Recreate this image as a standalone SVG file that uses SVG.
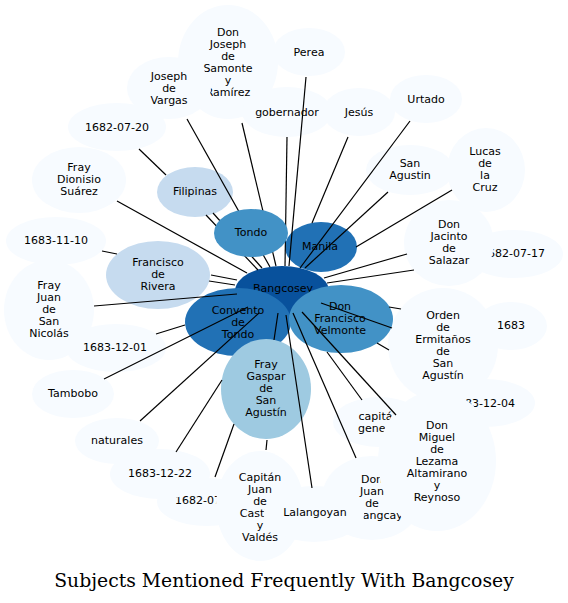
<svg xmlns="http://www.w3.org/2000/svg" width="568" height="603" viewBox="0 0 568 603">
<style>
text{font-family:"DejaVu Sans","Liberation Sans",sans-serif;font-size:11px;text-anchor:middle;fill:#000}
.b0{fill:#f7fbff}.b1{fill:#c6dbef}.b2{fill:#9ecae1}.b3{fill:#4292c6}.b4{fill:#2171b5}.b5{fill:#08519c}
#edges line{stroke:#000;stroke-width:1.2}
.title{font-family:"DejaVu Serif","Liberation Serif",serif;font-size:18.8px}
</style>
<rect width="568" height="603" fill="#fff"/>
<g id="n_samonte"><ellipse class="b0" cx="228" cy="62" rx="50" ry="57"/><text><tspan x="228" y="36">Don</tspan><tspan x="228" y="48">Joseph</tspan><tspan x="228" y="60">de</tspan><tspan x="228" y="72">Samonte</tspan><tspan x="228" y="84">y</tspan><tspan x="228" y="96">Ramírez</tspan></text></g>
<g id="n_perea"><ellipse class="b0" cx="309" cy="52" rx="36" ry="24"/><text x="309" y="56">Perea</text></g>
<g id="n_gobernador"><ellipse class="b0" cx="287" cy="112" rx="45" ry="25"/><text x="287" y="116">gobernador</text></g>
<g id="n_vargas"><ellipse class="b0" cx="169" cy="88" rx="42" ry="31"/><text><tspan x="169" y="80">Joseph</tspan><tspan x="169" y="92">de</tspan><tspan x="169" y="104">Vargas</tspan></text></g>
<g id="n_jesus"><ellipse class="b0" cx="359" cy="112" rx="36" ry="24"/><text x="359" y="116">Jesús</text></g>
<g id="n_urtado"><ellipse class="b0" cx="426" cy="99" rx="36" ry="24"/><text x="426" y="103">Urtado</text></g>
<g id="n_d16820720"><ellipse class="b0" cx="117" cy="127" rx="49" ry="24"/><text x="117" y="131">1682-07-20</text></g>
<g id="n_sanagustin"><ellipse class="b0" cx="410" cy="170" rx="44" ry="25"/><text><tspan x="410" y="167">San</tspan><tspan x="410" y="179">Agustin</tspan></text></g>
<g id="n_lucas"><ellipse class="b0" cx="486" cy="170" rx="39" ry="42"/><text><tspan x="485" y="155">Lucas</tspan><tspan x="485" y="167">de</tspan><tspan x="485" y="179">la</tspan><tspan x="485" y="191">Cruz</tspan></text></g>
<g id="n_dionisio"><ellipse class="b0" cx="79" cy="180" rx="47" ry="33"/><text><tspan x="79" y="171">Fray</tspan><tspan x="79" y="183">Dionisio</tspan><tspan x="79" y="195">Suárez</tspan></text></g>
<g id="n_d16820717"><ellipse class="b0" cx="514" cy="254" rx="49" ry="24"/><text x="513" y="257">1682-07-17</text></g>
<g id="n_jacinto"><ellipse class="b0" cx="449" cy="243" rx="45" ry="43"/><text><tspan x="449" y="228">Don</tspan><tspan x="449" y="240">Jacinto</tspan><tspan x="449" y="252">de</tspan><tspan x="449" y="264">Salazar</tspan></text></g>
<g id="n_d16831110"><ellipse class="b0" cx="56" cy="241" rx="50" ry="24"/><text x="56" y="244">1683-11-10</text></g>
<g id="n_sannicolas"><ellipse class="b0" cx="49" cy="310" rx="45" ry="50"/><text><tspan x="49" y="289">Fray</tspan><tspan x="49" y="301">Juan</tspan><tspan x="49" y="313">de</tspan><tspan x="49" y="325">San</tspan><tspan x="49" y="337">Nicolás</tspan></text></g>
<g id="n_d16831201"><ellipse class="b0" cx="116" cy="348" rx="50" ry="24"/><text x="115" y="351">1683-12-01</text></g>
<g id="n_d1683"><ellipse class="b0" cx="511" cy="326" rx="36" ry="24"/><text x="511" y="329">1683</text></g>
<g id="n_orden"><ellipse class="b0" cx="443" cy="345" rx="55" ry="57"/><text><tspan x="443" y="319">Orden</tspan><tspan x="443" y="331">de</tspan><tspan x="443" y="343">Ermitaños</tspan><tspan x="443" y="355">de</tspan><tspan x="443" y="367">San</tspan><tspan x="443" y="379">Agustín</tspan></text></g>
<g id="n_tambobo"><ellipse class="b0" cx="73" cy="394" rx="41" ry="24"/><text x="73" y="397">Tambobo</text></g>
<g id="n_d16831204"><ellipse class="b0" cx="485" cy="403" rx="50" ry="24"/><text x="483" y="407">1683-12-04</text></g>
<g id="n_capitangeneral"><ellipse class="b0" cx="379" cy="422" rx="46" ry="25"/><text><tspan x="379" y="420">capitán</tspan><tspan x="379" y="432">general</tspan></text></g>
<g id="n_naturales"><ellipse class="b0" cx="117" cy="441" rx="42" ry="23"/><text x="117" y="444">naturales</text></g>
<g id="n_d168207"><ellipse class="b0" cx="207" cy="502" rx="50" ry="24"/><text x="175" y="504" style="text-anchor:start">1682-07</text></g>
<g id="n_d16831222"><ellipse class="b0" cx="160" cy="474" rx="50" ry="25"/><text x="160" y="477">1683-12-22</text></g>
<g id="n_castillo"><ellipse class="b0" cx="260" cy="506" rx="44" ry="55"/><text><tspan x="260" y="481">Capitán</tspan><tspan x="260" y="493">Juan</tspan><tspan x="260" y="505">de</tspan><tspan x="260" y="517">Castillo</tspan><tspan x="260" y="529">y</tspan><tspan x="260" y="541">Valdés</tspan></text></g>
<g id="n_bangcay"><ellipse class="b0" cx="372" cy="498" rx="50" ry="42"/><text><tspan x="372" y="483">Don</tspan><tspan x="372" y="495">Juan</tspan><tspan x="372" y="507">de</tspan><tspan x="379" y="519">Bangcay</tspan></text></g>
<g id="n_lalangoyan"><ellipse class="b0" cx="314" cy="514" rx="50" ry="28"/><text x="315" y="516">Lalangoyan</text></g>
<g id="n_miguel"><ellipse class="b0" cx="437" cy="461" rx="59" ry="70"/><text><tspan x="437" y="429">Don</tspan><tspan x="437" y="441">Miguel</tspan><tspan x="437" y="453">de</tspan><tspan x="437" y="465">Lezama</tspan><tspan x="437" y="477">Altamirano</tspan><tspan x="437" y="489">y</tspan><tspan x="437" y="501">Reynoso</tspan></text></g>
<g id="n_filipinas"><ellipse class="b1" cx="195" cy="192" rx="38" ry="25"/><text x="195" y="195">Filipinas</text></g>
<g id="n_rivera"><ellipse class="b1" cx="158" cy="275" rx="52" ry="34"/><text><tspan x="158" y="266">Francisco</tspan><tspan x="158" y="278">de</tspan><tspan x="158" y="290">Rivera</tspan></text></g>
<g id="n_manila"><ellipse class="b4" cx="321" cy="247" rx="36" ry="25"/><text x="320" y="250">Manila</text></g>
<g id="n_bangcosey"><ellipse class="b5" cx="282" cy="291" rx="47" ry="25"/><text x="283" y="292">Bangcosey</text></g>
<g id="n_convento"><ellipse class="b4" cx="238" cy="322" rx="53" ry="34"/><text><tspan x="238" y="314">Convento</tspan><tspan x="238" y="326">de</tspan><tspan x="238" y="338">Tondo</tspan></text></g>
<g id="n_velmonte"><ellipse class="b3" cx="341" cy="319" rx="52" ry="34"/><text><tspan x="340" y="310">Don</tspan><tspan x="340" y="322">Francisco</tspan><tspan x="340" y="334">Velmonte</tspan></text></g>
<g id="n_gaspar"><ellipse class="b2" cx="266" cy="389" rx="45" ry="50"/><text><tspan x="266" y="368">Fray</tspan><tspan x="266" y="380">Gaspar</tspan><tspan x="266" y="392">de</tspan><tspan x="266" y="404">San</tspan><tspan x="266" y="416">Agustín</tspan></text></g>
<g id="edges">
<line x1="187" y1="119" x2="270" y2="267"/>
<line x1="242" y1="123" x2="276" y2="266"/>
<line x1="139" y1="149" x2="166" y2="175"/>
<line x1="206" y1="215" x2="258" y2="270"/>
<line x1="213" y1="213" x2="262" y2="268"/>
<line x1="117" y1="201" x2="247" y2="273"/>
<line x1="287" y1="137" x2="285" y2="266"/>
<line x1="306" y1="77" x2="289" y2="266"/>
<line x1="348" y1="137" x2="312" y2="223"/>
<line x1="410" y1="121" x2="300" y2="268"/>
<line x1="388" y1="192" x2="305" y2="268"/>
<line x1="452" y1="190" x2="356" y2="247"/>
<line x1="407" y1="254" x2="324" y2="278"/>
<line x1="414" y1="270" x2="327" y2="283"/>
<line x1="321" y1="303" x2="392" y2="328"/>
<line x1="389" y1="307" x2="401" y2="309"/>
<line x1="377" y1="343" x2="389" y2="350"/>
<line x1="327" y1="352" x2="362" y2="400"/>
<line x1="302" y1="312" x2="396" y2="415"/>
<line x1="293" y1="313" x2="356" y2="458"/>
<line x1="286" y1="315" x2="312" y2="488"/>
<line x1="278" y1="313" x2="274" y2="340"/>
<line x1="267" y1="440" x2="266" y2="450"/>
<line x1="234" y1="424" x2="215" y2="477"/>
<line x1="222" y1="380" x2="176" y2="452"/>
<line x1="140" y1="421" x2="259" y2="313"/>
<line x1="104" y1="379" x2="248" y2="307"/>
<line x1="156" y1="334" x2="185" y2="325"/>
<line x1="94" y1="306" x2="237" y2="294"/>
<line x1="211" y1="275" x2="237" y2="280"/>
<line x1="209" y1="281" x2="235" y2="285"/>
<line x1="102" y1="251" x2="117" y2="254"/>
</g>
<g id="n_tondo"><ellipse class="b3" cx="251" cy="233" rx="37" ry="24"/><text x="251" y="236">Tondo</text></g>
<text class="title" x="284" y="587">Subjects Mentioned Frequently With Bangcosey</text>
</svg>
